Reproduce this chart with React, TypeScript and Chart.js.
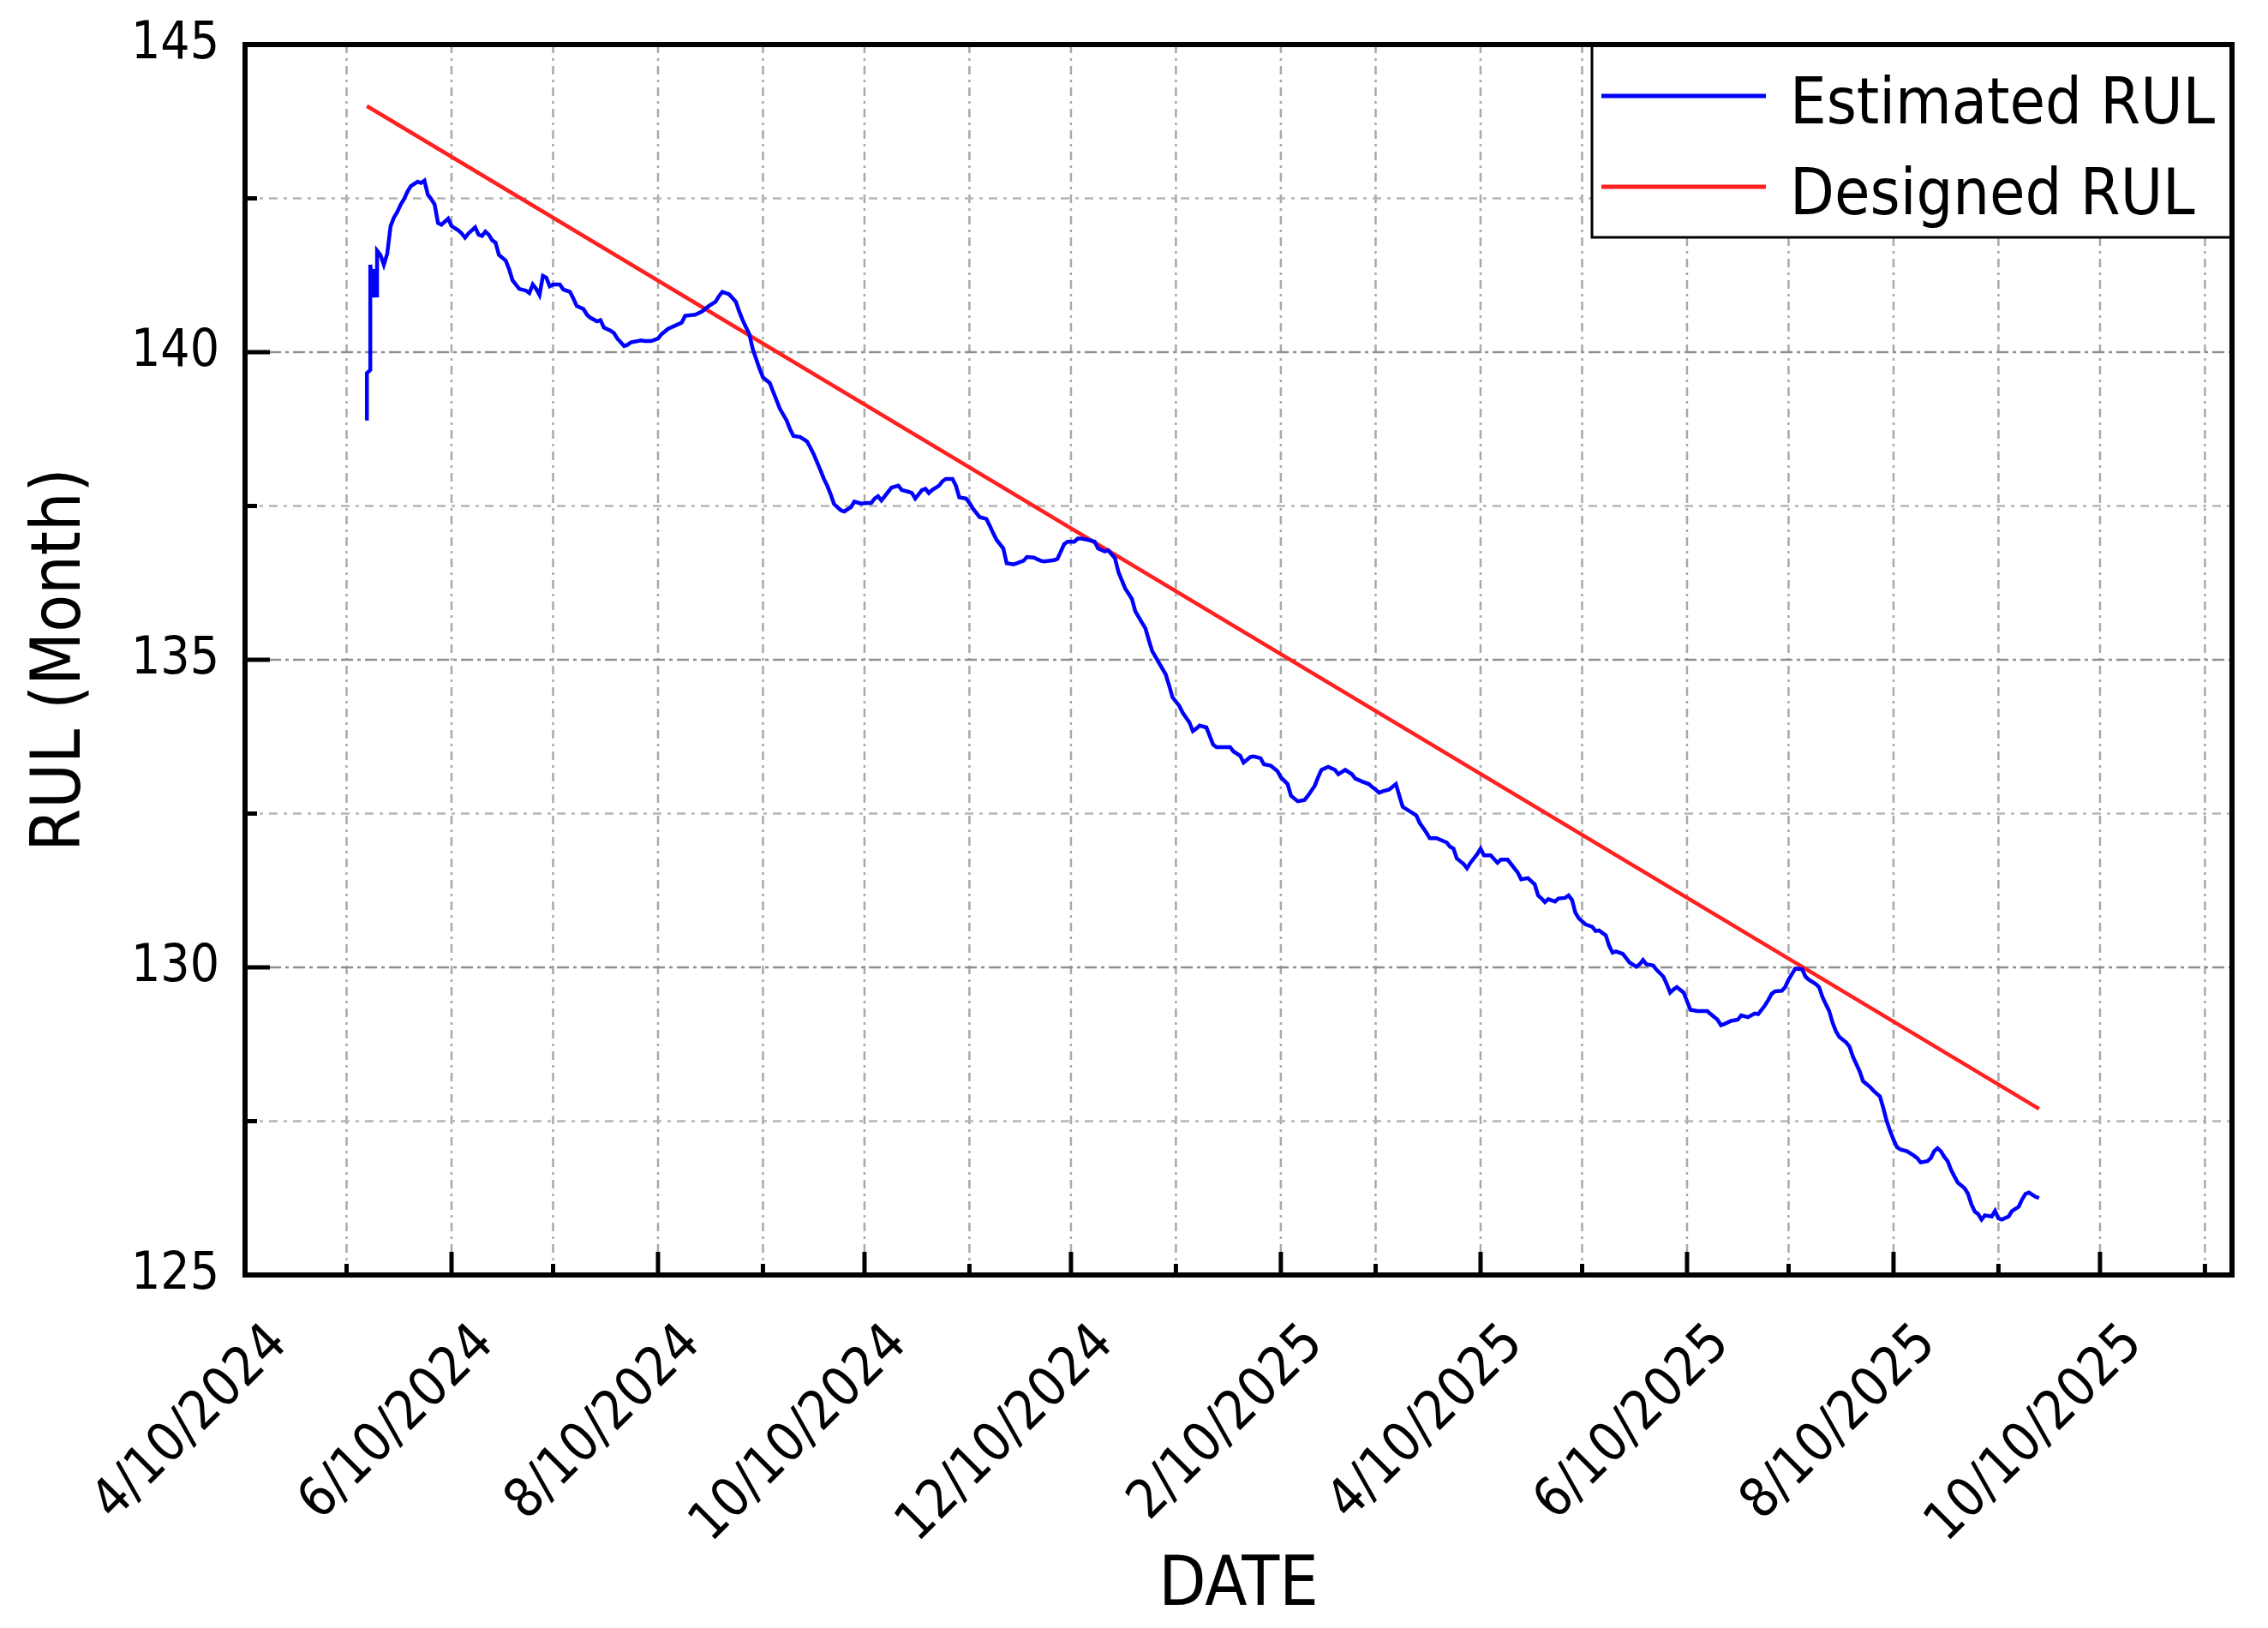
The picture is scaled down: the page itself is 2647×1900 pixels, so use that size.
import { useEffect, useRef } from "react"
import { Chart, registerables } from "chart.js"

Chart.register(...registerables)

const FONT = '"DejaVu Sans Condensed", "DejaVu Sans", sans-serif'
const BLUE = "#0000ff"
const RED = "#ff2020"
const GRID = "#a9a9a9"

// axis ticks: the 10th of every month, labels on the even months
const xTickDates = [
  "2024-04-10", "2024-05-10", "2024-06-10", "2024-07-10", "2024-08-10", "2024-09-10",
  "2024-10-10", "2024-11-10", "2024-12-10", "2025-01-10", "2025-02-10", "2025-03-10",
  "2025-04-10", "2025-05-10", "2025-06-10", "2025-07-10", "2025-08-10", "2025-09-10",
  "2025-10-10", "2025-11-10",
]
const xRange = ["2024-04-10", "2025-11-18"]
const yTicks = [125, 127.5, 130, 132.5, 135, 137.5, 140, 142.5, 145]
const yLabels = [125, 130, 135, 140, 145]

// designed RUL drops one month per month
const designedRul: [string, number][] = [
  ["2024-05-16", 144.0],
  ["2025-09-22", 127.7],
]

// estimated RUL
const estimatedRul: [string, number][] = [
  ["2024-05-16", 138.89], ["2024-05-16", 139.66], ["2024-05-17", 139.71], ["2024-05-17", 141.42],
  ["2024-05-18", 140.89], ["2024-05-18", 141.35], ["2024-05-19", 140.89], ["2024-05-19", 141.65],
  ["2024-05-20", 141.58], ["2024-05-21", 141.42], ["2024-05-22", 141.6], ["2024-05-23", 142.05],
  ["2024-05-24", 142.19], ["2024-05-25", 142.28], ["2024-05-26", 142.4], ["2024-05-27", 142.49],
  ["2024-05-28", 142.61], ["2024-05-29", 142.7], ["2024-05-31", 142.77], ["2024-06-01", 142.75],
  ["2024-06-02", 142.79], ["2024-06-03", 142.56], ["2024-06-04", 142.49], ["2024-06-05", 142.4],
  ["2024-06-06", 142.1], ["2024-06-07", 142.07], ["2024-06-08", 142.12], ["2024-06-09", 142.17],
  ["2024-06-10", 142.05], ["2024-06-12", 141.98], ["2024-06-13", 141.93], ["2024-06-14", 141.86],
  ["2024-06-15", 141.93], ["2024-06-16", 141.98], ["2024-06-17", 142.03], ["2024-06-18", 141.91],
  ["2024-06-19", 141.89], ["2024-06-20", 141.96], ["2024-06-21", 141.91], ["2024-06-22", 141.82],
  ["2024-06-23", 141.78], ["2024-06-24", 141.58], ["2024-06-26", 141.49], ["2024-06-27", 141.35],
  ["2024-06-28", 141.17], ["2024-06-29", 141.1], ["2024-06-30", 141.03], ["2024-07-02", 141.0],
  ["2024-07-03", 140.96], ["2024-07-04", 141.1], ["2024-07-05", 141.03], ["2024-07-06", 140.93],
  ["2024-07-07", 141.24], ["2024-07-08", 141.21], ["2024-07-09", 141.07], ["2024-07-10", 141.1],
  ["2024-07-12", 141.1], ["2024-07-13", 141.02], ["2024-07-15", 140.98], ["2024-07-16", 140.87],
  ["2024-07-17", 140.75], ["2024-07-19", 140.7], ["2024-07-20", 140.61], ["2024-07-21", 140.56],
  ["2024-07-23", 140.5], ["2024-07-24", 140.52], ["2024-07-25", 140.4], ["2024-07-27", 140.35],
  ["2024-07-28", 140.31], ["2024-07-29", 140.22], ["2024-07-31", 140.1], ["2024-08-01", 140.12],
  ["2024-08-02", 140.16], ["2024-08-05", 140.19], ["2024-08-06", 140.18], ["2024-08-08", 140.18],
  ["2024-08-10", 140.22], ["2024-08-11", 140.29], ["2024-08-13", 140.38], ["2024-08-15", 140.43],
  ["2024-08-17", 140.48], ["2024-08-18", 140.59], ["2024-08-21", 140.61], ["2024-08-23", 140.66],
  ["2024-08-25", 140.75], ["2024-08-27", 140.82], ["2024-08-28", 140.91], ["2024-08-29", 140.98],
  ["2024-08-31", 140.94], ["2024-09-02", 140.82], ["2024-09-03", 140.66], ["2024-09-04", 140.52],
  ["2024-09-06", 140.29], ["2024-09-07", 140.05], ["2024-09-08", 139.89], ["2024-09-09", 139.73],
  ["2024-09-10", 139.59], ["2024-09-12", 139.5], ["2024-09-13", 139.36], ["2024-09-14", 139.22],
  ["2024-09-15", 139.08], ["2024-09-17", 138.89], ["2024-09-18", 138.75], ["2024-09-19", 138.64],
  ["2024-09-21", 138.62], ["2024-09-23", 138.55], ["2024-09-24", 138.45], ["2024-09-25", 138.34],
  ["2024-09-27", 138.08], ["2024-09-28", 137.94], ["2024-09-29", 137.83], ["2024-09-30", 137.69],
  ["2024-10-01", 137.53], ["2024-10-03", 137.43], ["2024-10-04", 137.41], ["2024-10-06", 137.48],
  ["2024-10-07", 137.57], ["2024-10-09", 137.54], ["2024-10-11", 137.55], ["2024-10-12", 137.55],
  ["2024-10-13", 137.62], ["2024-10-14", 137.66], ["2024-10-15", 137.59], ["2024-10-17", 137.73],
  ["2024-10-18", 137.8], ["2024-10-20", 137.83], ["2024-10-21", 137.76], ["2024-10-23", 137.73],
  ["2024-10-24", 137.71], ["2024-10-25", 137.62], ["2024-10-27", 137.76], ["2024-10-28", 137.78],
  ["2024-10-29", 137.71], ["2024-10-30", 137.76], ["2024-11-01", 137.83], ["2024-11-02", 137.9],
  ["2024-11-03", 137.94], ["2024-11-05", 137.94], ["2024-11-06", 137.83], ["2024-11-07", 137.64],
  ["2024-11-09", 137.62], ["2024-11-10", 137.55], ["2024-11-11", 137.46], ["2024-11-13", 137.32],
  ["2024-11-15", 137.29], ["2024-11-16", 137.18], ["2024-11-17", 137.06], ["2024-11-18", 136.95],
  ["2024-11-20", 136.81], ["2024-11-21", 136.57], ["2024-11-23", 136.55], ["2024-11-24", 136.57],
  ["2024-11-26", 136.61], ["2024-11-27", 136.67], ["2024-11-29", 136.66], ["2024-12-01", 136.61],
  ["2024-12-02", 136.6], ["2024-12-05", 136.62], ["2024-12-06", 136.64], ["2024-12-07", 136.76],
  ["2024-12-08", 136.88], ["2024-12-09", 136.92], ["2024-12-11", 136.92], ["2024-12-12", 136.97],
  ["2024-12-13", 136.97], ["2024-12-15", 136.95], ["2024-12-17", 136.92], ["2024-12-18", 136.81],
  ["2024-12-20", 136.76], ["2024-12-21", 136.78], ["2024-12-23", 136.65], ["2024-12-24", 136.43],
  ["2024-12-26", 136.16], ["2024-12-28", 135.99], ["2024-12-29", 135.79], ["2024-12-31", 135.6],
  ["2025-01-01", 135.51], ["2025-01-02", 135.32], ["2025-01-03", 135.14], ["2025-01-05", 134.95],
  ["2025-01-07", 134.76], ["2025-01-08", 134.58], ["2025-01-09", 134.39], ["2025-01-11", 134.25],
  ["2025-01-12", 134.14], ["2025-01-14", 133.98], ["2025-01-15", 133.84], ["2025-01-16", 133.88],
  ["2025-01-17", 133.93], ["2025-01-19", 133.9], ["2025-01-21", 133.62], ["2025-01-22", 133.58],
  ["2025-01-24", 133.58], ["2025-01-26", 133.58], ["2025-01-27", 133.51], ["2025-01-29", 133.44],
  ["2025-01-30", 133.33], ["2025-02-01", 133.42], ["2025-02-02", 133.43], ["2025-02-04", 133.4],
  ["2025-02-05", 133.3], ["2025-02-07", 133.28], ["2025-02-09", 133.19], ["2025-02-10", 133.09],
  ["2025-02-12", 132.98], ["2025-02-13", 132.79], ["2025-02-15", 132.7], ["2025-02-17", 132.72],
  ["2025-02-18", 132.79], ["2025-02-20", 132.95], ["2025-02-21", 133.09], ["2025-02-22", 133.21],
  ["2025-02-24", 133.26], ["2025-02-26", 133.21], ["2025-02-27", 133.14], ["2025-03-01", 133.21],
  ["2025-03-03", 133.14], ["2025-03-04", 133.07], ["2025-03-06", 133.02], ["2025-03-08", 132.98],
  ["2025-03-09", 132.93], ["2025-03-10", 132.89], ["2025-03-11", 132.84], ["2025-03-12", 132.86],
  ["2025-03-14", 132.89], ["2025-03-16", 132.98], ["2025-03-17", 132.79], ["2025-03-18", 132.61],
  ["2025-03-20", 132.54], ["2025-03-22", 132.47], ["2025-03-23", 132.35], ["2025-03-25", 132.19],
  ["2025-03-26", 132.1], ["2025-03-28", 132.1], ["2025-03-31", 132.03], ["2025-04-01", 131.96],
  ["2025-04-02", 131.93], ["2025-04-03", 131.77], ["2025-04-05", 131.68], ["2025-04-06", 131.61],
  ["2025-04-07", 131.7], ["2025-04-09", 131.84], ["2025-04-10", 131.93], ["2025-04-11", 131.82],
  ["2025-04-13", 131.82], ["2025-04-15", 131.7], ["2025-04-16", 131.75], ["2025-04-18", 131.75],
  ["2025-04-20", 131.61], ["2025-04-21", 131.54], ["2025-04-22", 131.43], ["2025-04-24", 131.45],
  ["2025-04-26", 131.35], ["2025-04-27", 131.17], ["2025-04-28", 131.12], ["2025-04-29", 131.06],
  ["2025-04-30", 131.11], ["2025-05-02", 131.07], ["2025-05-03", 131.12], ["2025-05-05", 131.13],
  ["2025-05-06", 131.17], ["2025-05-07", 131.1], ["2025-05-08", 130.89], ["2025-05-09", 130.8],
  ["2025-05-11", 130.7], ["2025-05-13", 130.66], ["2025-05-14", 130.59], ["2025-05-15", 130.6],
  ["2025-05-17", 130.52], ["2025-05-18", 130.35], ["2025-05-19", 130.24], ["2025-05-20", 130.26],
  ["2025-05-22", 130.22], ["2025-05-23", 130.15], ["2025-05-24", 130.08], ["2025-05-26", 130.01],
  ["2025-05-27", 130.05], ["2025-05-28", 130.12], ["2025-05-29", 130.05], ["2025-05-31", 130.03],
  ["2025-06-01", 129.96], ["2025-06-03", 129.85], ["2025-06-04", 129.73], ["2025-06-05", 129.59],
  ["2025-06-06", 129.64], ["2025-06-07", 129.68], ["2025-06-09", 129.59], ["2025-06-10", 129.45],
  ["2025-06-11", 129.31], ["2025-06-13", 129.29], ["2025-06-14", 129.29], ["2025-06-16", 129.29],
  ["2025-06-17", 129.24], ["2025-06-19", 129.15], ["2025-06-20", 129.06], ["2025-06-21", 129.08],
  ["2025-06-23", 129.13], ["2025-06-25", 129.15], ["2025-06-26", 129.22], ["2025-06-28", 129.19],
  ["2025-06-30", 129.25], ["2025-07-01", 129.24], ["2025-07-02", 129.31], ["2025-07-03", 129.38],
  ["2025-07-04", 129.47], ["2025-07-05", 129.57], ["2025-07-06", 129.61], ["2025-07-08", 129.62],
  ["2025-07-09", 129.68], ["2025-07-10", 129.8], ["2025-07-11", 129.89], ["2025-07-12", 129.98],
  ["2025-07-14", 129.97], ["2025-07-15", 129.85], ["2025-07-16", 129.8], ["2025-07-18", 129.73],
  ["2025-07-19", 129.68], ["2025-07-20", 129.52], ["2025-07-21", 129.4], ["2025-07-22", 129.29],
  ["2025-07-23", 129.1], ["2025-07-24", 128.96], ["2025-07-25", 128.87], ["2025-07-27", 128.78],
  ["2025-07-28", 128.71], ["2025-07-29", 128.55], ["2025-07-30", 128.43], ["2025-07-31", 128.31],
  ["2025-08-01", 128.15], ["2025-08-03", 128.06], ["2025-08-04", 128.0], ["2025-08-06", 127.9],
  ["2025-08-07", 127.71], ["2025-08-08", 127.5], ["2025-08-09", 127.34], ["2025-08-10", 127.2],
  ["2025-08-11", 127.08], ["2025-08-12", 127.04], ["2025-08-14", 127.01], ["2025-08-16", 126.94],
  ["2025-08-17", 126.9], ["2025-08-18", 126.83], ["2025-08-20", 126.85], ["2025-08-21", 126.9],
  ["2025-08-22", 127.01], ["2025-08-23", 127.06], ["2025-08-24", 127.01], ["2025-08-25", 126.92],
  ["2025-08-26", 126.85], ["2025-08-27", 126.71], ["2025-08-28", 126.6], ["2025-08-29", 126.5],
  ["2025-08-31", 126.41], ["2025-09-01", 126.32], ["2025-09-02", 126.15], ["2025-09-03", 126.03],
  ["2025-09-04", 125.99], ["2025-09-05", 125.9], ["2025-09-06", 125.97], ["2025-09-08", 125.95],
  ["2025-09-09", 126.04], ["2025-09-10", 125.92], ["2025-09-11", 125.9], ["2025-09-13", 125.95],
  ["2025-09-14", 126.04], ["2025-09-16", 126.11], ["2025-09-17", 126.23], ["2025-09-18", 126.32],
  ["2025-09-19", 126.34], ["2025-09-21", 126.27], ["2025-09-22", 126.25],
]

const DAY = 86400000
const toDay = (s: string) => {
  const [y, m, d] = s.split("-").map(Number)
  return Date.UTC(y, m - 1, d) / DAY
}
const fmtDay = (v: number) => {
  const dt = new Date(v * DAY)
  return `${dt.getUTCMonth() + 1}/${dt.getUTCDate()}/${dt.getUTCFullYear()}`
}
const xTickDays = xTickDates.map(toDay)

// no extra padding from the scales, the plot box is fixed by layout.padding
const noScalePadding = (scale: any) => {
  scale.paddingTop = 0
  scale.paddingBottom = 0
  scale.paddingLeft = 0
  scale.paddingRight = 0
}

// grid, inward ticks, frame and the boxed legend
const framePlugin = {
  id: "originFrame",
  beforeDatasetsDraw(chart: any) {
    const { ctx, chartArea: a, scales } = chart
    ctx.save()
    ctx.lineWidth = 2.5
    ctx.strokeStyle = GRID
    for (const t of xTickDays) {
      const px = scales.x.getPixelForValue(t)
      if (px <= a.left + 2 || px >= a.right - 2) continue
      ctx.setLineDash([10, 6, 3, 6])
      ctx.beginPath()
      ctx.moveTo(px, a.top)
      ctx.lineTo(px, a.bottom)
      ctx.stroke()
    }
    for (const v of yTicks) {
      const py = scales.y.getPixelForValue(v)
      if (py <= a.top + 2 || py >= a.bottom - 2) continue
      const major = yLabels.includes(v)
      ctx.strokeStyle = major ? "#8f8f8f" : "#b5b5b5"
      ctx.setLineDash(major ? [14, 5, 4, 5] : [10, 7, 4, 7])
      ctx.beginPath()
      ctx.moveTo(a.left, py)
      ctx.lineTo(a.right, py)
      ctx.stroke()
    }
    ctx.restore()
  },
  afterDatasetsDraw(chart: any) {
    const { ctx, chartArea: a, scales } = chart
    ctx.save()
    ctx.setLineDash([])

    // legend box
    const lx = 1858
    const ly = a.top
    const lw = a.right - lx
    const lh = 225
    ctx.fillStyle = "#ffffff"
    ctx.fillRect(lx, ly, lw, lh)
    ctx.strokeStyle = "#000000"
    ctx.lineWidth = 3
    ctx.strokeRect(lx, ly, lw, lh)
    ctx.font = `75px ${FONT}`
    ctx.textBaseline = "alphabetic"
    ctx.textAlign = "left"
    chart.data.datasets.forEach((ds: any, i: number) => {
      const rowY = ly + 60 + i * 106
      ctx.strokeStyle = ds.borderColor
      ctx.lineWidth = 5
      ctx.beginPath()
      ctx.moveTo(lx + 11, rowY)
      ctx.lineTo(lx + 203, rowY)
      ctx.stroke()
      ctx.fillStyle = "#000000"
      ctx.fillText(ds.label, lx + 231, rowY + 32)
    })

    // inward ticks
    ctx.strokeStyle = "#000000"
    ctx.lineWidth = 5
    xTickDays.forEach((t) => {
      const px = scales.x.getPixelForValue(t)
      const major = new Date(t * DAY).getUTCMonth() % 2 === 1
      ctx.beginPath()
      ctx.moveTo(px, a.bottom)
      ctx.lineTo(px, a.bottom - (major ? 27 : 13))
      ctx.stroke()
    })
    yTicks.forEach((v) => {
      const py = scales.y.getPixelForValue(v)
      ctx.beginPath()
      ctx.moveTo(a.left, py)
      ctx.lineTo(a.left + (yLabels.includes(v) ? 29 : 14), py)
      ctx.stroke()
    })

    // frame
    ctx.lineWidth = 6
    ctx.strokeRect(a.left, a.top, a.right - a.left, a.bottom - a.top)
    ctx.restore()
  },
}

export default function App() {
  const canvasRef = useRef<HTMLCanvasElement>(null)
  const chartRef = useRef<Chart | null>(null)

  useEffect(() => {
    document.body.style.margin = "0"
    if (!canvasRef.current) return
    if (chartRef.current) chartRef.current.destroy()

    chartRef.current = new Chart(canvasRef.current, {
      type: "line",
      data: {
        datasets: [
          {
            label: "Estimated RUL",
            data: estimatedRul.map(([d, v]) => ({ x: toDay(d), y: v })),
            borderColor: BLUE,
            borderWidth: 4.5,
            pointRadius: 0,
            tension: 0,
          },
          {
            label: "Designed RUL",
            data: designedRul.map(([d, v]) => ({ x: toDay(d), y: v })),
            borderColor: RED,
            borderWidth: 4.5,
            pointRadius: 0,
            tension: 0,
          },
        ],
      },
      options: {
        animation: false,
        responsive: true,
        maintainAspectRatio: false,
        devicePixelRatio: 1,
        layout: { padding: { top: 52, right: 42, left: 0, bottom: 0 } },
        plugins: {
          legend: { display: false },
          tooltip: { enabled: false },
        },
        scales: {
          x: {
            type: "linear",
            min: toDay(xRange[0]),
            max: toDay(xRange[1]),
            afterBuildTicks: (scale: any) => {
              scale.ticks = xTickDays.map((value) => ({ value }))
            },
            afterFit: (scale: any) => {
              scale.height = 412
              noScalePadding(scale)
            },
            grid: { display: false, drawTicks: false },
            border: { display: false },
            ticks: {
              autoSkip: false,
              minRotation: 45,
              maxRotation: 45,
              padding: 44,
              labelOffset: 40,
              color: "#000000",
              font: { family: FONT, size: 63 },
              callback: (value: any) => {
                const m = new Date(Number(value) * DAY).getUTCMonth() + 1
                return m % 2 === 0 ? fmtDay(Number(value)) : ""
              },
            },
            title: {
              display: true,
              text: "DATE",
              color: "#000000",
              font: { family: FONT, size: 80 },
              padding: { top: 0, bottom: 0 },
            },
          },
          y: {
            min: 125,
            max: 145,
            afterBuildTicks: (scale: any) => {
              scale.ticks = yTicks.map((value) => ({ value }))
            },
            afterFit: (scale: any) => {
              scale.width = 286
              noScalePadding(scale)
            },
            grid: { display: false, drawTicks: false },
            border: { display: false },
            ticks: {
              padding: 30,
              color: "#000000",
              font: { family: FONT, size: 60 },
              callback: (value: any) => (yLabels.includes(Number(value)) ? String(value) : ""),
            },
            title: {
              display: true,
              text: "RUL (Month)",
              color: "#000000",
              font: { family: FONT, size: 80 },
              padding: { top: 24, bottom: 0 },
            },
          },
        },
      },
      plugins: [framePlugin],
    })

    return () => {
      if (chartRef.current) {
        chartRef.current.destroy()
        chartRef.current = null
      }
    }
  }, [])

  return (
    <div style={{ width: 2647, height: 1900, position: "relative", background: "#ffffff" }}>
      <canvas ref={canvasRef}></canvas>
    </div>
  )
}
